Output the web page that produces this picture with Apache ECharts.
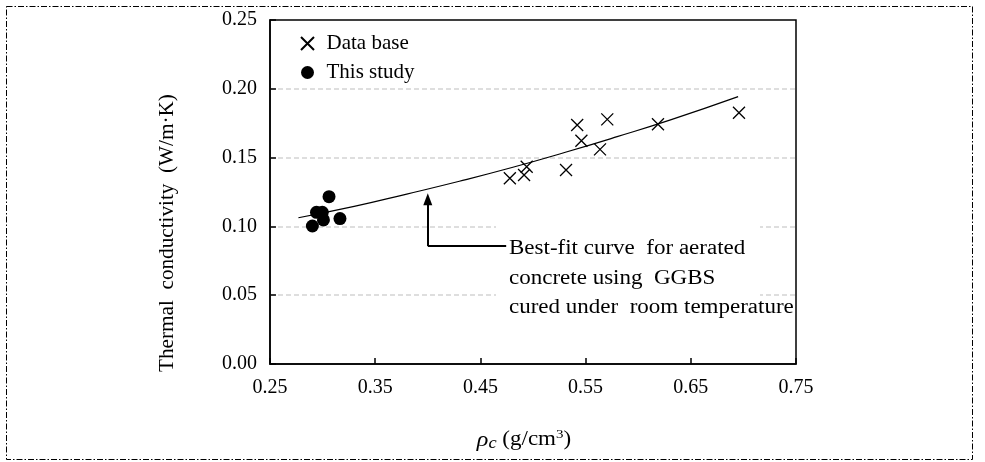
<!DOCTYPE html>
<html>
<head>
<meta charset="utf-8">
<script src="https://cdn.jsdelivr.net/npm/echarts@6/dist/echarts.min.js"></script>
<style>html,body{margin:0;padding:0;background:#fff}#c{width:985px;height:462px}</style>
</head>
<body>
<div id="c"></div>
<script>
// Data
var dataBaseX = [0.478, 0.4915, 0.494, 0.5314, 0.542, 0.546, 0.5637, 0.5706, 0.6188, 0.6958];
var dataBaseY = [0.135, 0.1374, 0.1434, 0.141, 0.1737, 0.1623, 0.156, 0.1778, 0.1742, 0.1826];
var studyX = [0.3061, 0.2942, 0.2997, 0.2903, 0.3008, 0.3165];
var studyY = [0.1216, 0.1102, 0.1102, 0.1003, 0.1047, 0.1057];
var fitX = [0.277, 0.33, 0.38, 0.43, 0.48, 0.53, 0.58, 0.63, 0.695];
var fitY = [0.1063, 0.1145, 0.1235, 0.1328, 0.1428, 0.1537, 0.1652, 0.1772, 0.1943];
var xTicks = [0.25, 0.35, 0.45, 0.55, 0.65, 0.75];
var yTicks = [0.00, 0.05, 0.10, 0.15, 0.20, 0.25];
var annotLines = ['Best-fit curve  for aerated', 'concrete using  GGBS', 'cured under  room temperature'];

function zip(a, b) { return a.map(function (v, i) { return [v, b[i]]; }); }

var FONT = '"Liberation Serif", "Times New Roman", serif';
var crossPath = 'path://M0,0L10,10M0,10L10,0';

var chart = echarts.init(document.getElementById('c'), null, { renderer: 'canvas' });
chart.setOption({
  backgroundColor: '#fff',
  animation: false,
  grid: { left: 270, top: 20, width: 526, height: 344, show: true, borderColor: '#000', borderWidth: 1.5, backgroundColor: 'transparent' },
  xAxis: {
    type: 'value', min: xTicks[0], max: xTicks[xTicks.length - 1], interval: 0.1,
    axisLine: { lineStyle: { color: '#000', width: 1.5 } },
    axisTick: { inside: true, length: 6, lineStyle: { color: '#000', width: 1.5 } },
    axisLabel: { margin: 14, color: '#000', fontFamily: FONT, fontSize: 20, formatter: function (v) { return v.toFixed(2); } },
    splitLine: { show: false }
  },
  yAxis: {
    type: 'value', min: yTicks[0], max: yTicks[yTicks.length - 1], interval: 0.05,
    axisLine: { lineStyle: { color: '#000', width: 1.5 } },
    axisTick: { inside: true, length: 6, lineStyle: { color: '#000', width: 1.5 } },
    axisLabel: { margin: 13, color: '#000', fontFamily: FONT, fontSize: 20, formatter: function (v) { return v.toFixed(2); } },
    splitLine: { show: true, showMinLine: false, showMaxLine: false, lineStyle: { color: '#d4d4d4', width: 1.5, type: [5, 3] } }
  },
  legend: {
    orient: 'vertical', left: 295, top: 28, itemWidth: 28, itemHeight: 13, itemGap: 8,
    textStyle: { fontFamily: FONT, fontSize: 21, color: '#000' },
    data: [
      { name: 'Data base', icon: crossPath },
      { name: 'This study', icon: 'circle' }
    ]
  },
  graphic: [
    { type: 'rect', z: 1, shape: { x: 496, y: 222, width: 264, height: 96 }, style: { fill: '#fff' }, silent: true },
    { type: 'rect', z: 0, shape: { x: 6.5, y: 6.5, width: 966, height: 453 }, style: { fill: 'none', stroke: '#000', lineWidth: 1, lineDash: [6, 2, 1.5, 2] }, silent: true },
    { type: 'text', z: 5, x: 509, y: 234, scaleX: 1.15, style: { x: 0, y: 0, text: annotLines.join('\n'), font: '20px ' + FONT, fill: '#000', lineHeight: 29.5 } },
    { type: 'text', z: 5, x: 168, y: 233, rotation: Math.PI / 2, scaleX: 1.06,
      style: { x: 0, y: 0, text: 'Thermal  conductivity  (W/m·K)', font: '20px ' + FONT, fill: '#000', align: 'center', verticalAlign: 'middle' } },
    { type: 'text', z: 5, x: 524, y: 440, scaleX: 1.15,
      style: {
        x: 0, y: 0,
        text: '{g|ρ}{s|c}{n| (g/cm}{p|3}{n|)}', align: 'center', verticalAlign: 'middle',
        rich: {
          g: { fontFamily: FONT, fontStyle: 'italic', fontSize: 21, fill: '#000', lineHeight: 24 },
          s: { fontFamily: FONT, fontStyle: 'italic', fontSize: 16, fill: '#000', verticalAlign: 'bottom', lineHeight: 24, padding: [6, 0, 0, 0] },
          n: { fontFamily: FONT, fontSize: 20, fill: '#000', lineHeight: 24 },
          p: { fontFamily: FONT, fontSize: 13, fill: '#000', verticalAlign: 'top', lineHeight: 24, padding: [0, 0, 8, 0] }
        }
      } }
  ],
  series: [
    {
      name: 'Best-fit', type: 'line', smooth: true, showSymbol: false, z: 3,
      data: zip(fitX, fitY), lineStyle: { color: '#000', width: 1.2 },
      markLine: {
        silent: true, symbol: ['none', 'none'], label: { show: false }, animation: false,
        lineStyle: { color: '#000', width: 2, type: 'solid' },
        data: [
          [{ coord: [0.4745, 0.0858] }, { coord: [0.40, 0.0858] }],
          [{ coord: [0.40, 0.0858], symbol: 'none' }, { coord: [0.40, 0.1197], symbol: 'triangle', symbolSize: [9, 12] }]
        ]
      }
    },
    {
      name: 'Data base', type: 'scatter', z: 4, symbol: crossPath, symbolSize: 12,
      itemStyle: { color: 'transparent', borderColor: '#000', borderWidth: 1.3, opacity: 1 },
      data: zip(dataBaseX, dataBaseY)
    },
    {
      name: 'This study', type: 'scatter', z: 4, symbol: 'circle', symbolSize: 13,
      itemStyle: { color: '#000', opacity: 1 },
      data: zip(studyX, studyY)
    }
  ]
});
</script>
</body>
</html>
